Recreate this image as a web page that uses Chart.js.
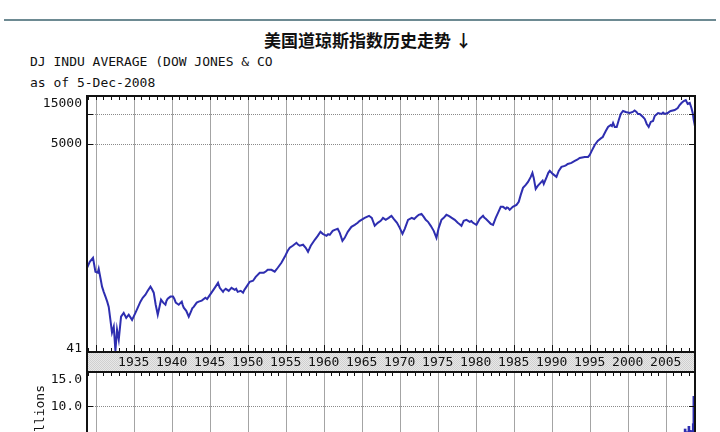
<!DOCTYPE html>
<html>
<head>
<meta charset="utf-8">
<script src="https://cdn.jsdelivr.net/npm/chart.js@4.4.1/dist/chart.umd.min.js"></script>
<style>
  html, body { margin: 0; padding: 0; background: #fff; width: 720px; height: 432px; overflow: hidden; }
  #rule { position: absolute; left: 4px; top: 19px; width: 712px; height: 2px; background: #6d8a92; }
  #title { position: absolute; left: 8px; top: 27px; width: 720px; text-align: center; line-height: 20px;
           font: bold 17px "Noto Sans CJK SC", sans-serif; color: #111; }
  .head { position: absolute; left: 30px; font: 13px "DejaVu Sans Mono", monospace; line-height: 16px; color: #111; white-space: pre; }
  canvas { position: absolute; left: 0; }
</style>
</head>
<body>
<div id="rule"></div>
<div id="title">美国道琼斯指数历史走势 ↓</div>
<div class="head" style="top:54px">DJ INDU AVERAGE (DOW JONES &amp; CO</div>
<div class="head" style="top:75px">as of 5-Dec-2008</div>
<canvas id="price" width="720" height="432" style="top:0"></canvas>
<canvas id="volume" width="720" height="140" style="top:360px"></canvas>
<script>
// Dow close (decimal year, index level)
const years = [
  1928.86, 1929.21, 1929.64, 1929.96, 1930.26, 1930.39, 1930.66, 1930.83, 1931.05, 1931.28, 1931.51, 1931.71, 1931.93, 1932.14, 1932.37, 1932.59, 1932.80, 1933.03, 1933.33, 1933.68,
  1934.01, 1934.34, 1934.78, 1935.22, 1935.53, 1935.88, 1936.18, 1936.54, 1936.84, 1937.20, 1937.37, 1937.63, 1937.89, 1938.16, 1938.42, 1938.59, 1938.88, 1939.17, 1939.30, 1939.47, 1939.83,
  1940.17, 1940.35, 1940.53, 1940.92, 1941.32, 1941.45, 1941.58, 1941.91, 1942.24, 1942.57, 1942.70, 1942.89, 1943.29, 1943.55, 1943.95, 1944.43, 1944.65, 1944.87, 1945.30, 1945.66,
  1946.09, 1946.32, 1946.75, 1946.90, 1947.11, 1947.50, 1947.68, 1947.86, 1948.29, 1948.48, 1948.68, 1949.08, 1949.38, 1949.55, 1949.74, 1950.26, 1950.70, 1951.05, 1951.58,
  1952.11, 1952.37, 1952.63, 1953.12, 1953.55, 1953.95, 1954.43, 1954.87, 1955.26, 1955.53, 1955.92, 1956.41, 1956.62, 1956.84, 1957.28, 1957.63, 1957.93,
  1958.29, 1958.82, 1959.21, 1959.57, 1959.87, 1960.36, 1960.58, 1960.79, 1961.18, 1961.45, 1961.84, 1962.11, 1962.46, 1962.76, 1963.16, 1963.64,
  1964.08, 1964.47, 1964.70, 1964.96, 1965.39, 1965.96, 1966.32, 1966.71, 1967.11, 1967.50, 1967.65, 1967.80, 1968.16, 1968.55, 1968.72, 1968.91, 1969.21, 1969.64,
  1970.00, 1970.36, 1970.66, 1971.09, 1971.58, 1971.90, 1972.20, 1972.50, 1972.86, 1973.16, 1973.42, 1973.72, 1974.08, 1974.47, 1974.83, 1975.13, 1975.49, 1975.79,
  1976.14, 1976.45, 1976.65, 1976.84, 1977.24, 1977.63, 1977.88, 1978.12, 1978.42, 1978.78, 1979.21, 1979.42, 1979.64, 1980.09, 1980.53, 1980.96, 1981.15, 1981.32, 1981.71, 1981.97,
  1982.28, 1982.63, 1982.93, 1983.29, 1983.59, 1983.95, 1984.10, 1984.25, 1984.47, 1984.87, 1985.36, 1985.66, 1985.92, 1986.22, 1986.58, 1986.88, 1987.24, 1987.46, 1987.63, 1987.89,
  1988.16, 1988.64, 1988.80, 1988.95, 1989.34, 1989.55, 1989.74, 1990.13, 1990.62, 1990.92, 1991.28, 1991.71, 1991.90, 1992.11, 1992.59, 1993.03, 1993.35, 1993.68,
  1994.34, 1994.78, 1995.00, 1995.26, 1995.66, 1996.05, 1996.54, 1996.70, 1996.84, 1997.11, 1997.41, 1997.76, 1997.92, 1998.07, 1998.29, 1998.55, 1998.82, 1999.08, 1999.38, 1999.74,
  2000.26, 2000.66, 2000.90, 2001.15, 2001.35, 2001.58, 2002.01, 2002.24, 2002.50, 2002.76, 2003.03, 2003.33, 2003.55, 2003.99, 2004.47, 2004.65, 2004.87, 2005.26, 2005.45, 2005.66,
  2006.18, 2006.58, 2006.80, 2007.07, 2007.37, 2007.63, 2007.89, 2008.16, 2008.38, 2008.55, 2008.68, 2008.84
];
const dowClose = [
  286, 328, 360, 261, 255, 279, 217, 185, 164, 147, 131, 116, 86, 64, 73.5, 42, 68.6, 54.5, 92.5, 101,
  90, 97, 86, 101, 114, 131, 143, 153.5, 168, 185, 176, 161, 122, 97, 119, 137, 128, 122, 133, 140, 147,
  147, 139, 128, 122, 131, 121, 114, 106, 92.5, 106, 112, 116, 128, 131, 134, 143, 139, 147, 164, 180,
  202, 180, 164, 171, 176, 168, 174, 180, 172, 176, 164, 168, 161, 171, 180, 207, 212, 232, 255,
  255, 262, 273, 273, 261, 286, 321, 368, 423, 453, 475, 508, 488, 475, 486, 453, 413,
  475, 545, 597, 655, 625, 597, 620, 611, 670, 686, 702, 640, 532, 570, 655, 735,
  769, 806, 838, 863, 904, 947, 904, 752, 806, 844, 872, 904, 863, 904, 925, 947, 884, 806,
  718, 625, 702, 863, 904, 880, 925, 969, 991, 925, 863, 825, 752, 670, 570, 718, 863, 904,
  969, 947, 925, 904, 863, 806, 780, 752, 844, 863, 825, 840, 806, 769, 884, 947, 905, 884, 825, 788,
  769, 904, 1014, 1165, 1165, 1112, 1150, 1138, 1087, 1165, 1219, 1307, 1535, 1804, 1933, 2071, 2324, 2548, 2271, 1763,
  1889, 2071, 2130, 1978, 2324, 2550, 2668, 2490, 2324, 2668, 2925, 2993, 3050, 3134, 3207, 3358, 3450, 3599,
  3683, 3683, 3856, 4228, 4855, 5320, 5705, 5800, 6110, 6700, 7345, 7695, 7500, 8055, 7345, 7345, 8635, 9910, 10620, 10380,
  10140, 10380, 10750, 10380, 9900, 9910, 9250, 8835, 7875, 7345, 8245, 8435, 9465, 10140, 9910, 10250, 9910, 10140, 10400, 10620,
  10870, 11380, 12100, 12770, 13370, 13680, 12480, 12770, 11380, 10140, 8635, 7520
];

// volume (billions), only the tail reaches into the visible part of the lower panel
const volumeYears = [2007.55, 2007.75, 2008.05, 2008.25, 2008.45, 2008.62, 2008.70, 2008.76, 2008.82];
const volumeBillions = [6.6, 6.2, 7.0, 6.4, 6.3, 7.4, 11.5, 10.4, 8.8];

const priceTicks = [41, 5000, 10000, 15000];
const priceTickLabels = ['41', '5000', '', '15000'];
const volumeTicks = [10, 15];
const volumeTickLabels = ['10.0', '15.0'];
const yearLabels = [1935, 1940, 1945, 1950, 1955, 1960, 1965, 1970, 1975, 1980, 1985, 1990, 1995, 2000, 2005];
const gridYears = [1930, 1935, 1940, 1945, 1950, 1955, 1960, 1965, 1970, 1975, 1980, 1985, 1990, 1995, 2000, 2005];
const xMin = 1928.85, xMax = 2008.85;

const LINE = '#2e2eb0';
const MONO = '13px "DejaVu Sans Mono", monospace';
const allYears = [];
for (let yr = 1929; yr <= 2008; yr++) allYears.push(yr);

function seg(ctx, x1, y1, x2, y2) {
  ctx.beginPath(); ctx.moveTo(x1, y1); ctx.lineTo(x2, y2); ctx.stroke();
}
function clamp(v, lo, hi) { return Math.max(lo, Math.min(hi, v)); }

// light stipple used for the year band
function bandPattern(ctx) {
  const c = document.createElement('canvas');
  c.width = 2; c.height = 2;
  const g = c.getContext('2d');
  g.fillStyle = '#e8e8e8'; g.fillRect(0, 0, 2, 2);
  g.fillStyle = '#d0d0d0'; g.fillRect(0, 0, 1, 1); g.fillRect(1, 1, 1, 1);
  return ctx.createPattern(c, 'repeat');
}

const priceFrame = {
  id: 'priceFrame',
  beforeDatasetsDraw(chart) {
    const { ctx, chartArea: a, scales: { x, y } } = chart;
    ctx.save();
    ctx.lineWidth = 1;
    ctx.strokeStyle = '#a4a4a4';
    gridYears.forEach(yr => {
      const px = Math.round(x.getPixelForValue(yr)) + 0.5;
      seg(ctx, px, a.top, px, a.bottom);
    });
    ctx.setLineDash([1, 1]);
    ctx.strokeStyle = '#8a8a8a';
    [5000, 10000].forEach(v => {
      const py = Math.round(y.getPixelForValue(v)) + 0.5;
      seg(ctx, a.left, py, a.right, py);
    });
    ctx.restore();
  },
  afterDatasetsDraw(chart) {
    const { ctx, chartArea: a, scales: { x, y } } = chart;
    ctx.save();
    // year band between the panels
    const bTop = x.top, bBot = x.bottom;
    ctx.fillStyle = bandPattern(ctx);
    ctx.fillRect(a.left, bTop, a.right - a.left, bBot - bTop);

    ctx.strokeStyle = '#111';
    ctx.lineWidth = 1;
    allYears.forEach(yr => {
      const px = Math.round(x.getPixelForValue(yr)) + 0.5;
      const major = yr % 5 === 0;
      seg(ctx, px, a.top, px, a.top + 4);
      seg(ctx, px, bTop, px, bTop - (major ? 7 : 4));
      seg(ctx, px, bBot, px, bBot + (major ? 7 : 4));
    });
    [5000, 10000].forEach(v => {
      const py = Math.round(y.getPixelForValue(v)) + 0.5;
      seg(ctx, a.left, py, a.left + 6, py);
      seg(ctx, a.right - 6, py, a.right, py);
    });

    ctx.lineWidth = 2;
    ctx.strokeRect(a.left, a.top, a.right - a.left, a.bottom - a.top);
    ctx.strokeRect(a.left, bTop, a.right - a.left, bBot - bTop);

    ctx.fillStyle = '#111';
    ctx.font = MONO;
    ctx.textAlign = 'center';
    ctx.textBaseline = 'middle';
    yearLabels.forEach(yr => {
      ctx.fillText(String(yr), x.getPixelForValue(yr), (bTop + bBot) / 2 + 1);
    });

    ctx.textAlign = 'right';
    priceTicks.forEach((v, i) => {
      if (!priceTickLabels[i]) return;
      const py = clamp(y.getPixelForValue(v), a.top + 8, a.bottom - 3);
      ctx.fillText(priceTickLabels[i], a.left - 5, py);
    });
    ctx.restore();
  }
};

new Chart(document.getElementById('price'), {
  type: 'line',
  data: {
    datasets: [{
      data: years.map((yr, i) => ({ x: yr, y: dowClose[i] })),
      borderColor: LINE,
      borderWidth: 2,
      pointRadius: 0,
      tension: 0
    }]
  },
  options: {
    responsive: false,
    animation: false,
    devicePixelRatio: 1,
    layout: { padding: { left: 0, right: 25, top: 96, bottom: 60 } },
    plugins: { legend: { display: false }, tooltip: { enabled: false } },
    scales: {
      x: {
        type: 'linear', min: xMin, max: xMax, position: 'bottom',
        afterBuildTicks: s => { s.ticks = allYears.map(v => ({ value: v })); },
        afterFit: s => { s.height = 20; },
        ticks: { display: false },
        grid: { display: false },
        border: { display: false }
      },
      y: {
        type: 'logarithmic', min: 41, max: 15000,
        afterBuildTicks: s => { s.ticks = priceTicks.map(v => ({ value: v })); },
        afterFit: s => { s.width = 87; },
        ticks: { display: false },
        grid: { display: false },
        border: { display: false }
      }
    }
  },
  plugins: [priceFrame]
});

const volumeFrame = {
  id: 'volumeFrame',
  beforeDatasetsDraw(chart) {
    const { ctx, chartArea: a, scales: { x, y } } = chart;
    ctx.save();
    ctx.lineWidth = 1;
    ctx.strokeStyle = '#a4a4a4';
    gridYears.forEach(yr => {
      const px = Math.round(x.getPixelForValue(yr)) + 0.5;
      seg(ctx, px, a.top, px, a.bottom);
    });
    ctx.setLineDash([1, 1]);
    ctx.strokeStyle = '#8a8a8a';
    const py = Math.round(y.getPixelForValue(10)) + 0.5;
    seg(ctx, a.left, py, a.right, py);
    ctx.restore();
  },
  afterDatasetsDraw(chart) {
    const { ctx, chartArea: a, scales: { y } } = chart;
    ctx.save();
    ctx.strokeStyle = '#111';
    ctx.lineWidth = 1;
    const p10 = Math.round(y.getPixelForValue(10)) + 0.5;
    seg(ctx, a.left, p10, a.left + 6, p10);
    seg(ctx, a.right - 6, p10, a.right, p10);
    ctx.lineWidth = 2;
    seg(ctx, a.left, a.top, a.left, a.bottom);
    seg(ctx, a.right, a.top, a.right, a.bottom);

    ctx.fillStyle = '#111';
    ctx.font = MONO;
    ctx.textAlign = 'right';
    ctx.textBaseline = 'middle';
    volumeTicks.forEach((v, i) => {
      const py = clamp(y.getPixelForValue(v), a.top + 7, a.bottom - 3);
      ctx.fillText(volumeTickLabels[i], a.left - 5, py);
    });

    // axis title, reads bottom to top
    ctx.translate(41, a.top + 12);
    ctx.rotate(-Math.PI / 2);
    ctx.textAlign = 'right';
    ctx.fillText('Billions', 0, 0);
    ctx.restore();
  }
};

new Chart(document.getElementById('volume'), {
  type: 'bar',
  data: {
    datasets: [{
      data: volumeYears.map((yr, i) => ({ x: yr, y: volumeBillions[i] })),
      backgroundColor: LINE,
      barThickness: 2
    }]
  },
  options: {
    responsive: false,
    animation: false,
    devicePixelRatio: 1,
    layout: { padding: { left: 0, right: 25, top: 13, bottom: 27 } },
    plugins: { legend: { display: false }, tooltip: { enabled: false } },
    scales: {
      x: { type: 'linear', min: xMin, max: xMax, offset: false, display: false },
      y: {
        min: 0, max: 15,
        afterFit: s => { s.width = 87; },
        ticks: { display: false },
        grid: { display: false },
        border: { display: false }
      }
    }
  },
  plugins: [volumeFrame]
});
</script>
</body>
</html>
